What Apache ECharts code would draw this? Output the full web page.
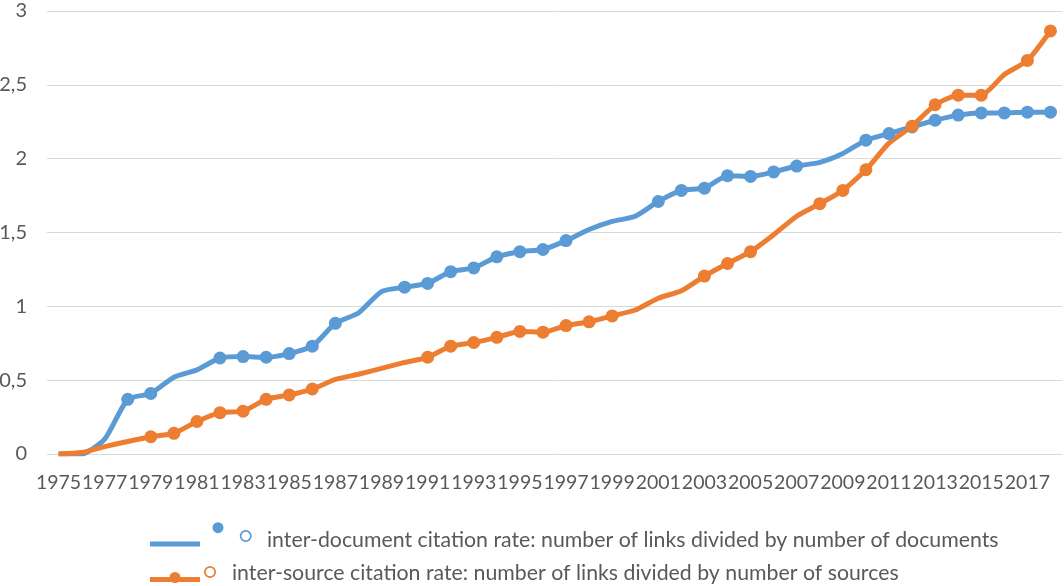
<!DOCTYPE html>
<html>
<head>
<meta charset="utf-8">
<script src="https://cdn.jsdelivr.net/npm/echarts@6/dist/echarts.min.js"></script>
<style>
html,body{margin:0;padding:0;background:#fff;}
#one{width:1064px;height:586px;}
</style>
</head>
<body>
<div id="one"></div>
<script>
// years on the x axis
var years = [];
for (var y = 1975; y <= 2018; y++) years.push(String(y));

// inter-document citation rate
var docRate = [0, 0, 0.10, 0.37, 0.41, 0.52, 0.57, 0.65, 0.66, 0.655, 0.68, 0.73, 0.885, 0.955, 1.10,
    1.13, 1.155, 1.235, 1.26, 1.335, 1.37, 1.385, 1.445, 1.52, 1.575, 1.61, 1.71, 1.785, 1.80,
    1.885, 1.88, 1.91, 1.95, 1.975, 2.035, 2.125, 2.17, 2.215, 2.26, 2.295, 2.31, 2.31, 2.315, 2.315];
// which points carry a marker
var docMarks = [0,0,0,1,1,0,0,1,1,1,1,1,1,0,0,1,1,1,1,1,1,1,1,0,0,0,1,1,1,1,1,1,1,0,0,1,1,1,1,1,1,1,1,1];

// inter-source citation rate
var srcRate = [0, 0.01, 0.05, 0.085, 0.117, 0.14, 0.22, 0.28, 0.29, 0.37, 0.40, 0.44, 0.505, 0.54, 0.58,
    0.62, 0.655, 0.73, 0.755, 0.79, 0.83, 0.825, 0.87, 0.895, 0.935, 0.975, 1.055, 1.105, 1.205,
    1.29, 1.37, 1.485, 1.61, 1.695, 1.785, 1.925, 2.105, 2.22, 2.365, 2.43, 2.43, 2.57, 2.665, 2.865];
var srcMarks = [0,0,0,0,1,1,1,1,1,1,1,1,0,0,0,0,1,1,1,1,1,1,1,1,1,0,0,0,1,1,1,0,0,1,1,1,0,1,1,1,1,0,1,1];

var docName = 'inter-document citation rate: number of links divided by number of documents';
var srcName = 'inter-source citation rate: number of links divided by number of sources';

var BLUE = '#5b9bd5';
var ORANGE = '#ed7d31';
var FONT = 'Lato';

// ring = outer circle clockwise + inner circle counter-clockwise
function ring(cx, cy, R, r) {
    return 'M' + (cx + R) + ' ' + cy + 'A' + R + ' ' + R + ' 0 1 1 ' + (cx - R) + ' ' + cy +
        'A' + R + ' ' + R + ' 0 1 1 ' + (cx + R) + ' ' + cy + 'Z' +
        'M' + (cx + r) + ' ' + cy + 'A' + r + ' ' + r + ' 0 1 0 ' + (cx - r) + ' ' + cy +
        'A' + r + ' ' + r + ' 0 1 0 ' + (cx + r) + ' ' + cy + 'Z';
}
function dot(cx, cy, r) {
    return 'M' + (cx + r) + ' ' + cy + 'A' + r + ' ' + r + ' 0 1 1 ' + (cx - r) + ' ' + cy +
        'A' + r + ' ' + r + ' 0 1 1 ' + (cx + r) + ' ' + cy + 'Z';
}
// legend icons, first two moves pin the box size
var docIcon = 'path://M0 0M112 36M0 19.5L50 19.5L50 24.5L0 24.5Z' + dot(68, 5.7, 5.5) + ring(95.7, 14, 6, 4.3);
var srcIcon = 'path://M0 0M77 24M0 16L50 16L50 21L0 21Z' + dot(25, 16.5, 5.5) + ring(60, 11, 6, 4.3);

var chart = echarts.init(document.getElementById('one'));

var option = {
    animation: false,
    grid: {left: 47, right: 2, top: 11, bottom: 132, outerBoundsMode: 'none', containLabel: false},
    legend: [{
        data: [{name: docName, icon: docIcon}],
        left: 150, top: 522, padding: 0,
        itemWidth: 112, itemHeight: 36,
        itemStyle: {color: BLUE, borderWidth: 0},
        textStyle: {color: '#595959', fontSize: 21.3, fontFamily: FONT},
        selectedMode: false
    }, {
        data: [{name: srcName, icon: srcIcon}],
        left: 150, top: 561, padding: 0,
        itemWidth: 77, itemHeight: 24,
        itemStyle: {color: ORANGE, borderWidth: 0},
        textStyle: {color: '#595959', fontSize: 21.3, fontFamily: FONT},
        selectedMode: false
    }],
    xAxis: {
        type: 'category',
        data: years,
        boundaryGap: true,
        axisLine: {show: true, lineStyle: {color: '#d9d9d9', width: 1}},
        axisTick: {show: false},
        axisLabel: {
            interval: 1, margin: 19, color: '#595959', fontSize: 19.5, fontFamily: FONT,
            showMinLabel: true, hideOverlap: false
        }
    },
    yAxis: {
        type: 'value',
        min: 0, max: 3, interval: 0.5,
        axisLine: {show: false},
        axisTick: {show: false},
        splitLine: {lineStyle: {color: '#d9d9d9', width: 1}},
        axisLabel: {
            margin: 20, color: '#595959', fontSize: 20, fontFamily: FONT,
            formatter: function (v) { return String(v).replace('.', ','); }
        }
    },
    series: [{
        name: docName,
        type: 'line',
        data: docRate,
        smooth: 0.2,
        showAllSymbol: true,
        symbol: 'circle',
        symbolSize: function (v, p) { return docMarks[p.dataIndex] ? 13 : 0; },
        lineStyle: {color: BLUE, width: 5},
        itemStyle: {color: BLUE, borderWidth: 0}
    }, {
        name: srcName,
        type: 'line',
        data: srcRate,
        smooth: 0.2,
        showAllSymbol: true,
        symbol: 'circle',
        symbolSize: function (v, p) { return srcMarks[p.dataIndex] ? 13 : 0; },
        lineStyle: {color: ORANGE, width: 5},
        itemStyle: {color: ORANGE, borderWidth: 0}
    }]
};
chart.setOption(option);
</script>
</body>
</html>
